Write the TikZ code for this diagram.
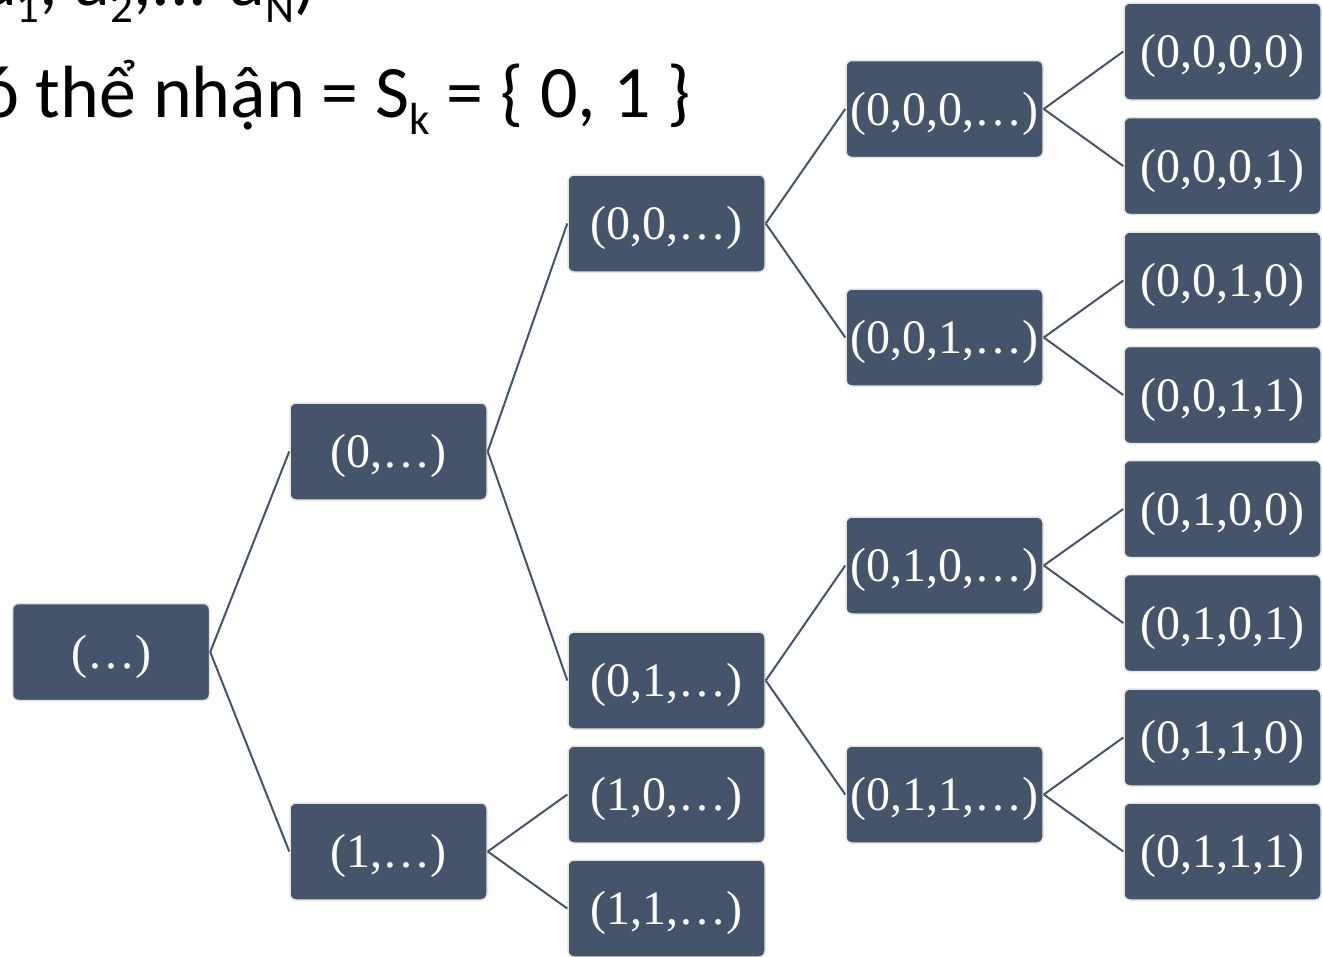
\documentclass[tikz,border=0pt]{standalone}
\usepackage{fontspec}
\setmainfont{Liberation Serif}
\newfontfamily\calib{Carlito}
\newcommand\mysub[1]{\raisebox{-0.23em}{\fontsize{45}{45}\selectfont #1}}
\definecolor{boxfill}{HTML}{44546A}
\definecolor{boxedge}{HTML}{E4E4E4}
\begin{document}
\begin{tikzpicture}[x=1pt,y=-1pt,
  tbox/.style={draw=boxedge,line width=1.5pt,fill=boxfill,rounded corners=6pt,
    minimum width=197pt,minimum height=97pt,inner sep=0pt,
    text=white,font=\fontsize{48}{48}\selectfont,text height=32.4pt,text depth=0pt},
  link/.style={draw=boxfill,line width=2pt},
  toptext/.style={inner sep=0pt,font=\calib\fontsize{74}{74}\selectfont}]
\useasboundingbox (0,0) rectangle (1322,956);
\clip (0,0) rectangle (1322,956);
\fill[white] (0,0) rectangle (1322,956);
% top text
\node[toptext,anchor=base east] (t1) at (317,5) {a\mysub{1}, a\mysub{2},... a\mysub{N})};
\node[toptext,anchor=base west] (t2) at (-20,117) {ó thể nhận = S\mysub{k} = \{ 0, 1 \}};
% nodes
\node[tbox] (r) at (111,652) {(…)};
\node[tbox] (a0) at (388.5,451.5) {(0,…)};
\node[tbox] (a1) at (388.5,851.5) {(1,…)};
\node[tbox] (b00) at (666.5,223.5) {(0,0,…)};
\node[tbox] (b01) at (666.5,680.5) {(0,1,…)};
\node[tbox] (b10) at (666.5,794.5) {(1,0,…)};
\node[tbox] (b11) at (666.5,908.5) {(1,1,…)};
\node[tbox] (c000) at (944.5,109) {(0,0,0,…)};
\node[tbox] (c001) at (944.5,337.5) {(0,0,1,…)};
\node[tbox] (c010) at (944.5,565.5) {(0,1,0,…)};
\node[tbox] (c011) at (944.5,794.5) {(0,1,1,…)};
\node[tbox] (d0000) at (1222.5,51.5) {(0,0,0,0)};
\node[tbox] (d0001) at (1222.5,166) {(0,0,0,1)};
\node[tbox] (d0010) at (1222.5,280.5) {(0,0,1,0)};
\node[tbox] (d0011) at (1222.5,395) {(0,0,1,1)};
\node[tbox] (d0100) at (1222.5,509) {(0,1,0,0)};
\node[tbox] (d0101) at (1222.5,623) {(0,1,0,1)};
\node[tbox] (d0110) at (1222.5,737.5) {(0,1,1,0)};
\node[tbox] (d0111) at (1222.5,851.5) {(0,1,1,1)};
% links
\draw[link] (r.east) -- (a0.west);
\draw[link] (r.east) -- (a1.west);
\draw[link] (a0.east) -- (b00.west);
\draw[link] (a0.east) -- (b01.west);
\draw[link] (a1.east) -- (b10.west);
\draw[link] (a1.east) -- (b11.west);
\draw[link] (b00.east) -- (c000.west);
\draw[link] (b00.east) -- (c001.west);
\draw[link] (b01.east) -- (c010.west);
\draw[link] (b01.east) -- (c011.west);
\draw[link] (c000.east) -- (d0000.west);
\draw[link] (c000.east) -- (d0001.west);
\draw[link] (c001.east) -- (d0010.west);
\draw[link] (c001.east) -- (d0011.west);
\draw[link] (c010.east) -- (d0100.west);
\draw[link] (c010.east) -- (d0101.west);
\draw[link] (c011.east) -- (d0110.west);
\draw[link] (c011.east) -- (d0111.west);
\end{tikzpicture}
\end{document}
